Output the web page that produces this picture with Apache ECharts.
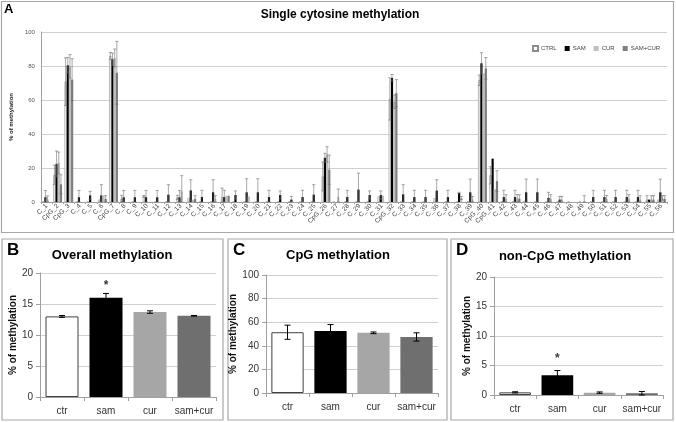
<!DOCTYPE html>
<html><head><meta charset="utf-8">
<script src="https://cdn.jsdelivr.net/npm/echarts@6/dist/echarts.min.js"></script>
<style>html,body{margin:0;padding:0;background:#fff}#c{width:676px;height:422px}</style>
</head><body><div id="c"></div>
<script>
const categories = ['C_1','CpG_2','CpG_3','C_4','C_5','C_6','CpG_7','C_8','C_9','C_10','C_11','C_12','C_13','C_14','C_15','C_16','C_17','C_18','C_19','C_20','C_21','C_22','C_23','C_24','C_25','CpG_26','C_27','C_28','C_29','C_30','C_31','CpG_32','C_33','C_34','C_35','C_36','C_37','C_38','C_39','CpG_40','CpG_41','C_42','C_43','C_44','C_45','C_46','C_47','C_48','C_49','C_50','C_51','C_52','C_53','C_54','C_55','C_56'];
const seriesNames = ['CTRL','SAM','CUR','SAM+CUR'];
const ctrl = [0,16,70.8,0,0,1.4,86,1.8,0,3.3, 0,0,2.7,2.4,0,0,2.9,0,0,0, 0,0,0,0,0,15,0,0,0,0, 3.3,60.6,0,0,0,2.2,0,0,0,71.6, 15.7,0,0,0,0,0,0,0,0,0, 0,0,0,0,1.4,1.4];
const ctrlErr = [0,5.6,14,0,0,0,2,2.1,0,0.5, 0,0,1.2,0,0,0,5.3,0,0,0, 0,0,0,0,0,8.5,0,0,0,0, 0,12.4,0,0,0,0,0,0,0,3.1, 5.1,0,0,0,0,0,0,0,0,0, 0,0,0,0,2.3,0];
const sam = [2.8,22.4,80.4,2.8,3.9,3.9,84,2.8,2.8,2.8, 2.8,4.3,2.8,6.8,2.9,5.7,2.9,4.1,5.7,5.7, 2.9,4.1,1.4,2.9,4.3,26,0,2.9,7.3,4.1, 4.1,73,4.5,2.9,2.9,6.7,2.9,5.3,5.7,81.6, 25.5,2.9,2.9,5.7,5.7,2.4,1.4,0,0,2.9, 2.9,2.9,2.9,2.9,1.4,5.7];
const samErr = [4,7.6,4.6,4,2.4,6.3,3.6,4,4,4, 4,5.9,4,6.3,4,7.4,4,2.4,8,8, 4,2.4,1.9,4,5.9,2.6,0,4,9.7,2.4, 2.4,2,5.7,4,4,6.4,4,0.4,7.8,6.2, 0,4,4,7.8,7.8,3.3,1.9,0,0,4, 4,4,4,4,0,7.8];
const cur = [1.4,23,79.8,0,0,3.9,84.7,0,0,0, 0,0,6.3,1.4,0,1.8,3.7,0,3.3,0, 0,0,0,0,0,28,2.9,0,0,0, 3.7,59,0,0,0,0,0,2.4,1.4,75.7, 7.6,2,2,0,0,1.8,1.4,0,0.4,0, 1.8,0,1.8,1.4,1.4,2.4];
const curErr = [2.2,6.4,6.9,0,0,0,5.3,0,0,0, 0,0,9.2,0,0,1.9,0,0,0,0, 0,0,0,0,0,4.5,4.7,0,0,0, 0,4,0,0,0,0,0,0.9,1.9,0, 0,2.3,2.3,0,0,2.5,1.9,0,3.3,0, 2,0,2.5,2.3,2.3,1.3];
const samcur = [0,10.4,72,0,0,1.8,76,0,0,0, 0,0,0,1.8,0,0,3.7,0,0,0, 0,0,0,0,0,19,0,0,0,0, 0,64,0,0,0,0,0,0,0,78.6, 12.3,0,2,0,0,0,0,0,0,0, 0,0,0,0,1.4,1.8];
const samcurErr = [0,5.6,12.3,0,0,1.9,18.5,0,0,0, 0,0,0,1.9,0,0,0,0,0,0, 0,0,0,0,0,8.6,0,0,0,0, 0,8,0,0,0,0,0,0,0,6.4, 6.1,0,2.3,0,0,0,0,0,0,0, 0,0,0,0,2.3,1.9];

const groups = ['ctr','sam','cur','sam+cur'];
const overall = [13, 16, 13.7, 13.1];
const overallErr = [0.15, 0.7, 0.2, 0.05];
const cpg = [51.5, 52.5, 51, 47.5];
const cpgErr = [6, 5.5, 0.7, 3.5];
const noncpg = [0.45, 3.35, 0.4, 0.3];
const noncpgErr = [0.1, 0.8, 0.12, 0.3];
const overallSig = [null, 18, null, null];
const noncpgSig = [null, 6.1, null, null];

const topVals = [ctrl, sam, cur, samcur];
const topErrs = [ctrlErr, samErr, curErr, samcurErr];
const topColors = ['#ffffff', '#000000', '#bfbfbf', '#7f7f7f'];
const topBorders = ['#8c8c8c', '#000000', '#bfbfbf', '#7f7f7f'];
const botColors = ['#ffffff', '#000000', '#a6a6a6', '#6f6f6f'];
const TOPGAP = 0.22;
const FONT = '"Liberation Sans", Arial, sans-serif';

function errRender(idx, n, gap, capW, color, lw) {
  return function (params, api) {
    const x = api.value(0), v = api.value(1), e = api.value(2);
    if (!e) return null;
    const band = api.size([1, 0])[0];
    const gw = band * (1 - gap);
    const bw = gw / n;
    const off = n === 1 ? 0 : -gw / 2 + bw * (idx + 0.5);
    const top = api.coord([x, v + e]);
    const bot = api.coord([x, Math.max(0, v - e)]);
    const cx = top[0] + off;
    const st = { stroke: color, lineWidth: lw };
    return { type: 'group', children: [
      { type: 'line', shape: { x1: cx, y1: top[1], x2: cx, y2: bot[1] }, style: st },
      { type: 'line', shape: { x1: cx - capW, y1: top[1], x2: cx + capW, y2: top[1] }, style: st },
      { type: 'line', shape: { x1: cx - capW, y1: bot[1], x2: cx + capW, y2: bot[1] }, style: st }
    ]};
  };
}

const series = [];
topVals.forEach((vals, i) => {
  series.push({
    name: seriesNames[i], type: 'bar', xAxisIndex: 0, yAxisIndex: 0,
    data: vals, barGap: '0%', barCategoryGap: (TOPGAP * 100) + '%',
    itemStyle: { color: topColors[i], borderColor: topBorders[i], borderWidth: i === 0 ? 0.6 : 0 },
    emphasis: { disabled: true }, animation: false
  });
});
topVals.forEach((vals, i) => {
  series.push({
    type: 'custom', xAxisIndex: 0, yAxisIndex: 0, z: 5,
    renderItem: errRender(i, 4, TOPGAP, 1.6, '#6e6e6e', 0.6),
    data: vals.map((v, k) => [k, v, topErrs[i][k]]), animation: false, silent: true
  });
});
const bottom = [[overall, overallErr, overallSig], [cpg, cpgErr, null], [noncpg, noncpgErr, noncpgSig]];
bottom.forEach((b, j) => {
  const ax = j + 1;
  series.push({
    type: 'bar', xAxisIndex: ax, yAxisIndex: ax, barCategoryGap: '25%',
    data: b[0].map((v, k) => ({ value: v, itemStyle: { color: botColors[k], borderColor: k === 0 ? '#404040' : botColors[k], borderWidth: k === 0 ? 1 : 0 } })),
    emphasis: { disabled: true }, animation: false
  });
  series.push({
    type: 'custom', xAxisIndex: ax, yAxisIndex: ax, z: 5,
    renderItem: errRender(0, 1, 0.25, 3, '#000', 1),
    data: b[0].map((v, k) => [k, v, b[1][k]]), animation: false, silent: true
  });
  if (b[2]) {
    series.push({
      type: 'scatter', xAxisIndex: ax, yAxisIndex: ax, symbolSize: 0,
      data: b[2].map((v, k) => v == null ? null : [k, v]).filter(d => d),
      label: { show: true, formatter: '*', position: 'inside', fontSize: 12, fontWeight: 'bold', color: '#000', fontFamily: FONT },
      animation: false, silent: true
    });
  }
});

const gridLine = { show: true, lineStyle: { color: '#d0d0d0', width: 1 } };
const axLine = { show: true, lineStyle: { color: '#a0a0a0' } };
function botX(i) {
  return { type: 'category', gridIndex: i, data: groups, axisLine: axLine,
    axisTick: { show: true, alignWithLabel: false, lineStyle: { color: '#a0a0a0' }, length: 4 },
    axisLabel: { interval: 0, fontSize: 10, color: '#333', margin: 9, fontFamily: FONT } };
}
function botY(i, max, interval) {
  return { type: 'value', gridIndex: i, min: 0, max: max, interval: interval,
    axisLine: axLine, axisTick: { show: true, length: 4, lineStyle: { color: '#a0a0a0' } },
    splitLine: gridLine,
    axisLabel: { fontSize: 10, color: '#333', margin: 7, fontFamily: FONT },
    name: '% of methylation', nameLocation: 'middle', nameGap: 22,
    nameTextStyle: { fontSize: 10, fontWeight: 'bold', color: '#111', fontFamily: FONT } };
}

const boxStyle = { fill: 'none', stroke: '#a8a8a8', lineWidth: 1.2 };
const option = {
  backgroundColor: '#fff',
  animation: false,
  legend: {
    data: seriesNames, left: 527, top: 40, width: 160, itemWidth: 5, itemHeight: 5, itemGap: 8,
    icon: 'rect', textStyle: { fontSize: 6, color: '#444', fontFamily: FONT, padding: [0, 0, 0, -2] }, selectedMode: false
  },
  grid: [
    { left: 34, right: 9, top: 32, bottom: 220 },
    { left: 40, right: 460, top: 273, bottom: 25 },
    { left: 266, right: 238, top: 275, bottom: 29 },
    { left: 494, right: 13, top: 277, bottom: 27 }
  ],
  xAxis: [
    { type: 'category', gridIndex: 0, data: categories, axisLine: axLine,
      axisTick: { show: true, length: 2, lineStyle: { color: '#a0a0a0' } },
      axisLabel: { interval: 0, rotate: 45, fontSize: 6.5, color: '#444', margin: 3, fontFamily: FONT } },
    botX(1), botX(2), botX(3)
  ],
  yAxis: [
    { type: 'value', gridIndex: 0, min: 0, max: 100, interval: 20,
      axisLine: axLine, axisTick: { show: false }, splitLine: gridLine,
      axisLabel: { fontSize: 6, color: '#555', margin: 6, fontFamily: FONT },
      name: '% of methylation', nameLocation: 'middle', nameGap: 16,
      nameTextStyle: { fontSize: 6, fontWeight: 'bold', color: '#222', fontFamily: FONT } },
    botY(1, 20, 5), botY(2, 100, 20), botY(3, 20, 5)
  ],
  graphic: [
    { type: 'rect', shape: { x: 1.5, y: 1.5, width: 672, height: 231 }, style: boxStyle, silent: true },
    { type: 'rect', shape: { x: 2, y: 239, width: 221, height: 181 }, style: boxStyle, silent: true },
    { type: 'rect', shape: { x: 228, y: 239, width: 219, height: 181 }, style: boxStyle, silent: true },
    { type: 'rect', shape: { x: 451, y: 239, width: 222, height: 181 }, style: boxStyle, silent: true },
    { type: 'text', x: 4, y: 3, style: { text: 'A', font: 'bold 13px ' + FONT, fill: '#000' } },
    { type: 'text', x: 340, y: 9, style: { text: 'Single cytosine methylation', textAlign: 'center', font: 'bold 12px ' + FONT, fill: '#000' } },
    { type: 'text', x: 7, y: 242, style: { text: 'B', font: 'bold 17px ' + FONT, fill: '#000' } },
    { type: 'text', x: 112, y: 249, style: { text: 'Overall methylation', textAlign: 'center', font: 'bold 13px ' + FONT, fill: '#000' } },
    { type: 'text', x: 233, y: 242, style: { text: 'C', font: 'bold 17px ' + FONT, fill: '#000' } },
    { type: 'text', x: 338, y: 249, style: { text: 'CpG methylation', textAlign: 'center', font: 'bold 13px ' + FONT, fill: '#000' } },
    { type: 'text', x: 456, y: 242, style: { text: 'D', font: 'bold 17px ' + FONT, fill: '#000' } },
    { type: 'text', x: 565, y: 250, style: { text: 'non-CpG methylation', textAlign: 'center', font: 'bold 13px ' + FONT, fill: '#000' } }
  ],
  series: series
};
const chart = echarts.init(document.getElementById('c'), null, { renderer: 'canvas' });
chart.setOption(option);
</script></body></html>
